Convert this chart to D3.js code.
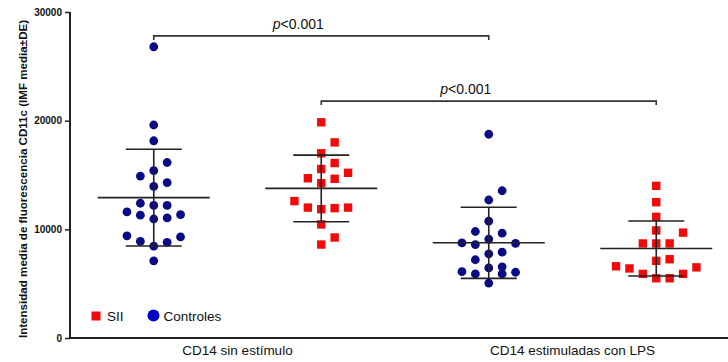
<!DOCTYPE html>
<html>
<head>
<meta charset="utf-8">
<script src="https://cdn.jsdelivr.net/npm/d3@7"></script>
<style>
  body { margin: 0; background: #fff; }
  svg { display: block; }
  text { font-family: Arial, "Liberation Sans", sans-serif; }
</style>
</head>
<body>
<svg id="chart" width="728" height="362"></svg>
<script>
// Category labels and series
const categories = ["CD14 sin estímulo", "CD14 estimuladas con LPS"];
const seriesNames = ["SII", "Controles"];

// Individual measurements (IMF) per group
const controlesSin = [26800, 19600, 18150, 16150, 15400, 14900, 14300, 13950, 12200, 12200, 12400,
  11600, 11300, 10950, 11050, 11350, 9300, 8800, 8900, 9400, 8450, 7100];
const siiSin = [19850, 18000, 17000, 16100, 15550, 15200, 14650, 14700, 14250, 12600, 12000,
  11850, 11950, 12000, 10450, 9250, 8600];
const controlesLps = [18750, 13550, 12700, 10750, 9650, 9800, 8750, 8600, 9100, 8700, 7750,
  7900, 7200, 6100, 6550, 5900, 6450, 5900, 6050, 5050];
const siiLps = [14000, 12500, 11150, 9900, 9700, 8700, 8700, 8700, 7250, 7100, 6600, 6400,
  6500, 5900, 5500, 5500, 5900];

const yTicks = [0, 10000, 20000, 30000];
const yTitle = "Intensidad media de fluorescencia CD11c (IMF media±DE)";

// Significance brackets: group index pairs, bracket level (IMF units), label
const bracketPairs = [[0, 2], [1, 3]];
const bracketLevels = [27800, 21800];
const bracketLabels = ["<0.001", "<0.001"];

const groups = [
  { key: "c0", series: "Controles", values: controlesSin },
  { key: "s0", series: "SII", values: siiSin },
  { key: "c1", series: "Controles", values: controlesLps },
  { key: "s1", series: "SII", values: siiLps }
];

const W = 728, H = 362;
const svg = d3.select("#chart");
const plotLeft = 70, plotTop = 12, plotBottom = 338;

const y = d3.scaleLinear().domain([0, 30000]).range([plotBottom, plotTop]);
const x = d3.scaleBand().domain(groups.map(g => g.key)).range([plotLeft, 740]);
const cx = k => x(k) + x.bandwidth() / 2;

const navy = "#0b0b86", red = "#f00a0a", ink = "#222";
const slotW = 13.4, rowGap = 13;

// Column-scatter layout: values are sorted and grouped into rows of similar height;
// within a row the points fan out from the centre: 0, +1, -1, +2, -2, ...
function columnScatter(values) {
  const order = d3.range(values.length).sort((a, b) => d3.ascending(values[a], values[b]));
  const slots = new Array(values.length);
  let rowStart = null, n = 0;
  for (const i of order) {
    const py = y(values[i]);
    if (rowStart === null || rowStart - py >= rowGap) { rowStart = py; n = 0; }
    slots[i] = n === 0 ? 0 : (n % 2 ? (n + 1) / 2 : -n / 2);
    n++;
  }
  return slots;
}

// Axes
const yAxis = d3.axisLeft(y).tickValues(yTicks).tickSize(5).tickPadding(3).tickFormat(d3.format("d"));
const gy = svg.append("g").attr("transform", `translate(${plotLeft},0)`).call(yAxis);
gy.select(".domain").attr("stroke", ink).attr("stroke-width", 2).attr("d", `M0,${plotTop}V${plotBottom}`);
gy.selectAll(".tick line").attr("stroke", ink).attr("stroke-width", 1.5);
gy.selectAll(".tick text").attr("font-size", 10).attr("font-weight", "bold").attr("fill", "#111")
  .attr("font-family", "Arial, 'Liberation Sans', sans-serif");

svg.append("line").attr("x1", plotLeft).attr("x2", W).attr("y1", plotBottom).attr("y2", plotBottom)
  .attr("stroke", ink).attr("stroke-width", 2);

svg.append("text")
  .attr("transform", `translate(27,${(plotTop + plotBottom) / 2 + 4}) rotate(-90)`)
  .attr("text-anchor", "middle").attr("font-size", 11.6).attr("font-weight", "bold").attr("fill", "#111")
  .text(yTitle);

// Category labels, centered under each pair of groups
categories.forEach((c, i) => {
  const mid = (cx(groups[2 * i].key) + cx(groups[2 * i + 1].key)) / 2;
  svg.append("text").attr("x", mid).attr("y", 355).attr("text-anchor", "middle")
    .attr("font-size", 13.5).attr("fill", "#111").text(c);
});

// Points
groups.forEach(g => {
  const slots = columnScatter(g.values);
  const sel = svg.append("g");
  g.values.forEach((v, i) => {
    const px = cx(g.key) + slots[i] * slotW, py = y(v);
    if (g.series === "Controles") {
      sel.append("circle").attr("cx", px).attr("cy", py).attr("r", 4.4).attr("fill", navy);
    } else {
      sel.append("rect").attr("x", px - 4.2).attr("y", py - 4.2).attr("width", 8.4).attr("height", 8.4).attr("fill", red);
    }
  });
});

// Mean ± SD bars
groups.forEach(g => {
  const m = d3.mean(g.values), sd = d3.deviation(g.values), c = cx(g.key);
  const eg = svg.append("g").attr("stroke", ink).attr("stroke-width", 1.6);
  eg.append("line").attr("x1", c).attr("x2", c).attr("y1", y(m + sd)).attr("y2", y(m - sd));
  eg.append("line").attr("x1", c - 56).attr("x2", c + 56).attr("y1", y(m)).attr("y2", y(m));
  [m + sd, m - sd].forEach(v =>
    eg.append("line").attr("x1", c - 28).attr("x2", c + 28).attr("y1", y(v)).attr("y2", y(v)));
});

// Significance brackets
bracketPairs.forEach(([a, b], i) => {
  const x1 = cx(groups[a].key), x2 = cx(groups[b].key), by = y(bracketLevels[i]);
  svg.append("path").attr("d", `M${x1},${by + 4}V${by}H${x2}V${by + 4}`)
    .attr("fill", "none").attr("stroke", "#333").attr("stroke-width", 1.6);
  const t = svg.append("text").attr("x", (x1 + x2) / 2 - 23).attr("y", by - 7)
    .attr("text-anchor", "middle").attr("font-size", 14).attr("fill", "#111");
  t.append("tspan").attr("font-style", "italic").text("p");
  t.append("tspan").text(bracketLabels[i]);
});

// Legend
const lg = svg.append("g");
lg.append("rect").attr("x", 91.5).attr("y", 311.5).attr("width", 9).attr("height", 9).attr("fill", red);
lg.append("text").attr("x", 107).attr("y", 321).attr("font-size", 13.5).attr("fill", "#111").text(seriesNames[0]);
lg.append("circle").attr("cx", 153.5).attr("cy", 315.5).attr("r", 6).attr("fill", "#0000c4");
lg.append("text").attr("x", 163.5).attr("y", 321).attr("font-size", 13.5).attr("fill", "#111").text(seriesNames[1]);
</script>
</body>
</html>
